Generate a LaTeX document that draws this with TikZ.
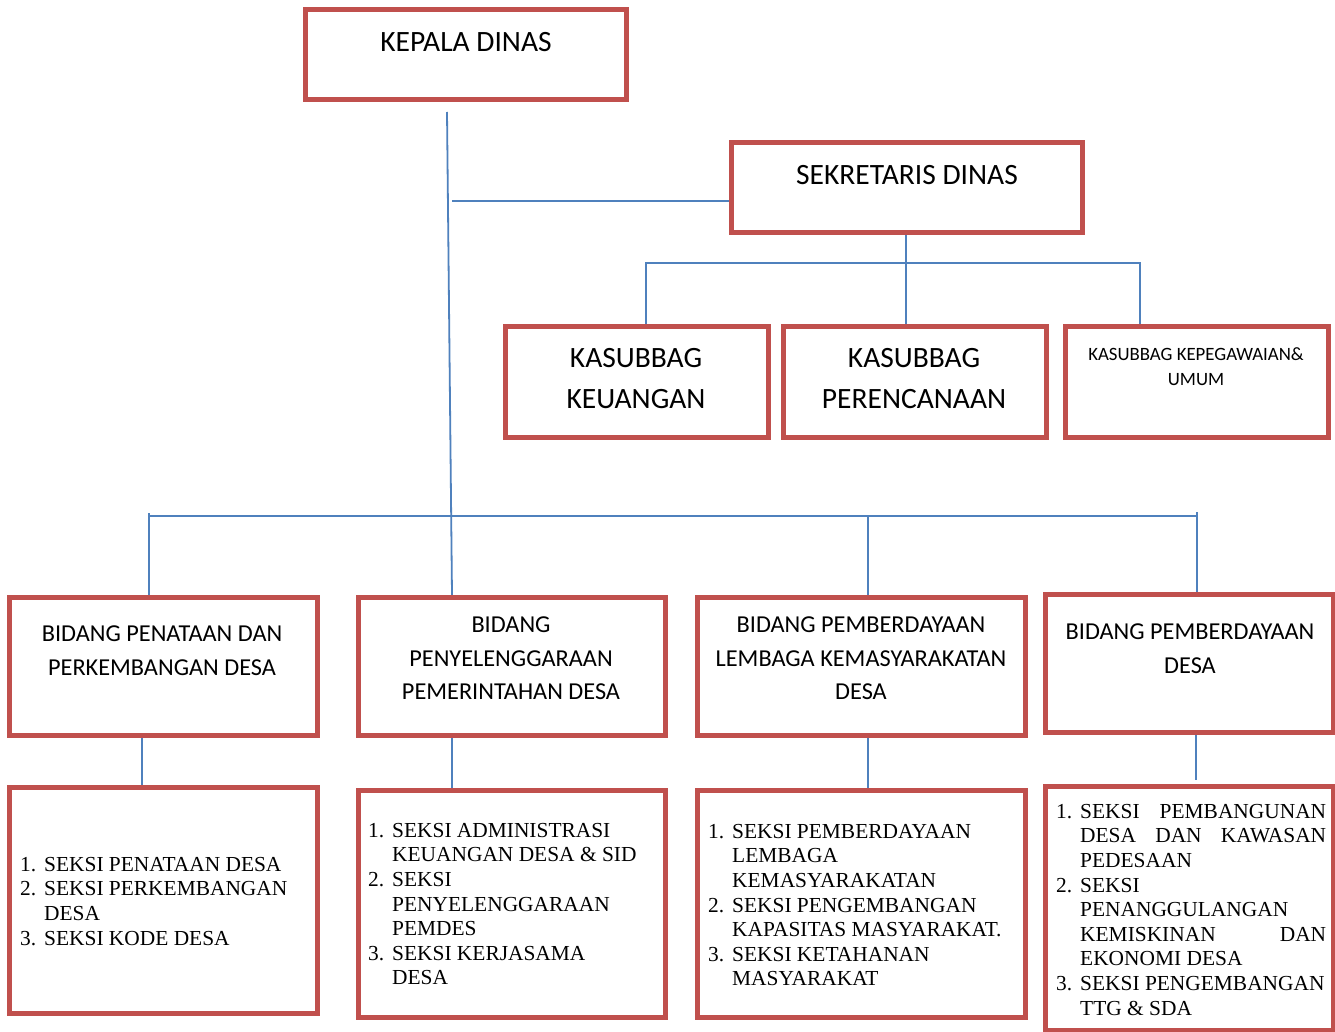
\documentclass[tikz,border=0pt]{standalone}
\usepackage{fontspec}
\setmainfont{Carlito}
\newfontfamily\tnr{Liberation Serif}
\definecolor{boxred}{HTML}{C0504D}
\definecolor{linkblue}{HTML}{4F81BD}
\newcommand\lb[1]{\makebox[24pt][l]{#1}}
\newcommand\ind{\hspace*{24pt}}
\begin{document}
\begin{tikzpicture}[x=1pt,y=-1pt,
  box/.style={draw=boxred,line width=5pt,fill=white,rectangle,inner sep=0pt,outer sep=0pt,anchor=north west},
  link/.style={draw=linkblue,line width=1.8pt},
  ttl/.style={font={\fontsize{29.5}{41}\selectfont},align=flush center,text width=360pt,inner sep=0pt,anchor=north},
  bid/.style={font={\fontsize{24.3}{33.5}\selectfont},align=flush center,text width=360pt,inner sep=0pt,anchor=north},
  sml/.style={font={\fontsize{18.8}{25}\selectfont},align=flush center,text width=300pt,inner sep=0pt,anchor=north},
  lst/.style={font={\tnr\fontsize{21.4}{24.6}\selectfont},align=flush left,inner sep=0pt,anchor=north west}]
\useasboundingbox[fill=white] (0,0) rectangle (1335,1032);

% junction coordinates
\coordinate (stemtop) at (447,112);
\coordinate (stembot) at (452,595);
\coordinate (sekL0) at (452,201);
\coordinate (sekL1) at (736,201);
\coordinate (sekB) at (906,233);
\coordinate (sekJ) at (906,263);
\coordinate (kasL) at (646,263);
\coordinate (kasR) at (1140,263);
\coordinate (keuT) at (646,326);
\coordinate (renT) at (906,326);
\coordinate (pegT) at (1140,326);
\coordinate (hbL) at (149,516);
\coordinate (hbR) at (1197,516);
\coordinate (hbLtop) at (149,513);
\coordinate (hbRtop) at (1197,512);
\coordinate (hbM) at (868,516);
\coordinate (b1T) at (149,597);
\coordinate (b3T) at (868,597);
\coordinate (b4T) at (1197,594);
\coordinate (b1B) at (142,735);
\coordinate (s1T) at (142,787);
\coordinate (b2B) at (452,735);
\coordinate (s2T) at (452,790);
\coordinate (b3B) at (868,735);
\coordinate (s3T) at (868,790);
\coordinate (b4B) at (1196,732);
\coordinate (s4T) at (1196,780);

% connectors
\draw[link] (stemtop) -- (stembot);
\draw[link] (sekL0) -- (sekL1);
\draw[link] (sekB) -- (sekJ);
\draw[link] (keuT) -- (kasL) -- (kasR) -- (pegT);
\draw[link] (sekJ) -- (renT);
\draw[link] (hbL) -- (hbR);
\draw[link] (hbLtop) -- (b1T);
\draw[link] (hbM) -- (b3T);
\draw[link] (hbRtop) -- (b4T);
\draw[link] (b1B) -- (s1T);
\draw[link] (b2B) -- (s2T);
\draw[link] (b3B) -- (s3T);
\draw[link] (b4B) -- (s4T);

% boxes
\node[box,minimum width=321,minimum height=90] (kepala) at (305,10) {};
\node[box,minimum width=351,minimum height=90] (sekretaris) at (731,143) {};
\node[box,minimum width=263,minimum height=111] (keu) at (505,326) {};
\node[box,minimum width=263,minimum height=111] (ren) at (783,326) {};
\node[box,minimum width=263,minimum height=111] (peg) at (1065,326) {};
\node[box,minimum width=308,minimum height=138] (b1) at (9,597) {};
\node[box,minimum width=307,minimum height=138] (b2) at (358,597) {};
\node[box,minimum width=328,minimum height=138] (b3) at (697,597) {};
\node[box,minimum width=288,minimum height=138] (b4) at (1045,594) {};
\node[box,minimum width=308,minimum height=226] (s1) at (9,787) {};
\node[box,minimum width=307,minimum height=227] (s2) at (358,790) {};
\node[box,minimum width=328,minimum height=227] (s3) at (697,790) {};
\node[box,minimum width=288,minimum height=244] (s4) at (1045,786) {};

% texts
\node[ttl] (kepala-t) at (466,30) {\rule{0pt}{21pt}KEPALA DINAS};
\node[ttl] (sekretaris-t) at (907,163) {\rule{0pt}{21pt}SEKRETARIS DINAS};
\node[ttl] (keu-t) at (636,346) {\rule{0pt}{21pt}KASUBBAG\\KEUANGAN};
\node[ttl] (ren-t) at (914,346) {\rule{0pt}{21pt}KASUBBAG\\PERENCANAAN};
\node[sml] (peg-t) at (1196,346.5) {\rule{0pt}{14pt}KASUBBAG KEPEGAWAIAN\&\\UMUM};
\node[bid] (b1-t) at (162,623.5) {\rule{0pt}{18pt}BIDANG PENATAAN DAN\\PERKEMBANGAN DESA};
\node[bid] (b2-t) at (511,614.5) {\rule{0pt}{18pt}BIDANG\\PENYELENGGARAAN\\PEMERINTAHAN DESA};
\node[bid] (b3-t) at (861,614.5) {\rule{0pt}{18pt}BIDANG PEMBERDAYAAN\\LEMBAGA KEMASYARAKATAN\\DESA};
\node[bid] (b4-t) at (1190,621.5) {\rule{0pt}{18pt}BIDANG PEMBERDAYAAN\\DESA};

\node[lst,text width=290pt] (s1-t) at (20,855) {\rule{0pt}{16pt}\lb{1.}SEKSI PENATAAN DESA\\
\lb{2.}SEKSI PERKEMBANGAN\\
\ind DESA\\
\lb{3.}SEKSI KODE DESA};
\node[lst,text width=295pt] (s2-t) at (368,821) {\rule{0pt}{16pt}\lb{1.}SEKSI ADMINISTRASI\\
\ind KEUANGAN DESA \& SID\\
\lb{2.}SEKSI\\
\ind PENYELENGGARAAN\\
\ind PEMDES\\
\lb{3.}SEKSI KERJASAMA\\
\ind DESA};
\node[lst,text width=315pt] (s3-t) at (708,822) {\rule{0pt}{16pt}\lb{1.}SEKSI PEMBERDAYAAN\\
\ind LEMBAGA\\
\ind KEMASYARAKATAN\\
\lb{2.}SEKSI PENGEMBANGAN\\
\ind KAPASITAS MASYARAKAT.\\
\lb{3.}SEKSI KETAHANAN\\
\ind MASYARAKAT};
\node[lst,text width=270pt] (s4-t) at (1056,802) {\rule{0pt}{16pt}\lb{1.}SEKSI\hfill PEMBANGUNAN\\
\ind DESA\hfill DAN\hfill KAWASAN\\
\ind PEDESAAN\\
\lb{2.}SEKSI\\
\ind PENANGGULANGAN\\
\ind KEMISKINAN\hfill DAN\\
\ind EKONOMI DESA\\
\lb{3.}SEKSI PENGEMBANGAN\\
\ind TTG \& SDA};
\end{tikzpicture}
\end{document}
